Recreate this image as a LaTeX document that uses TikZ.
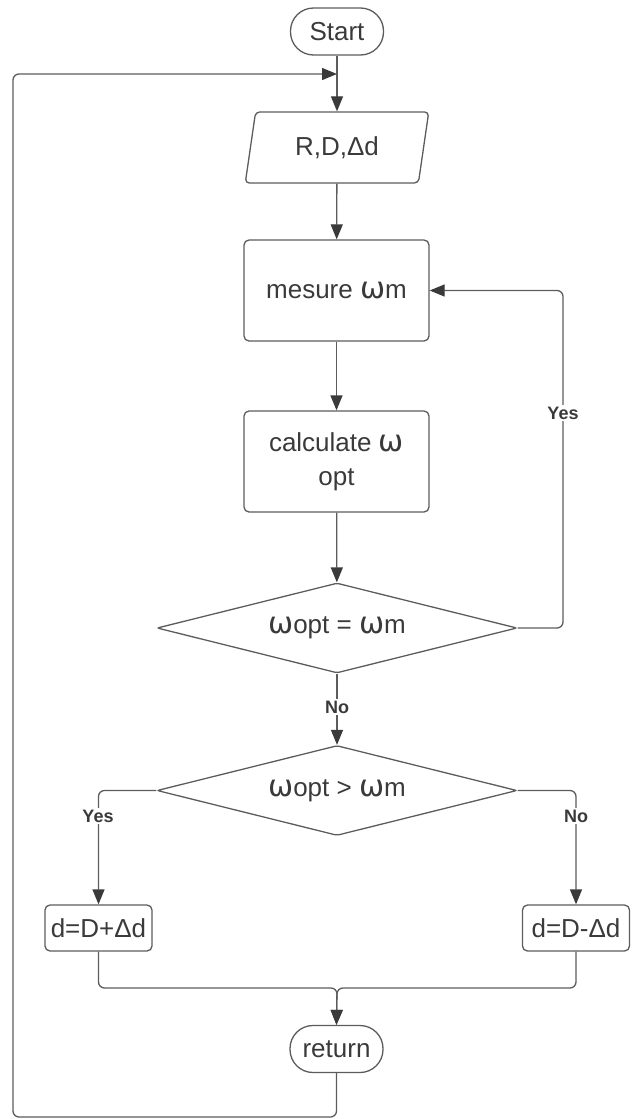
\documentclass[tikz,border=0pt]{standalone}
\usepackage{fontspec}
\setmainfont{Liberation Sans}
\newfontfamily\omfont{DejaVu Sans}
\usepackage{tikz}
\usetikzlibrary{shapes.geometric,arrows.meta}

\definecolor{ink}{HTML}{3A3A3A}
\definecolor{wire}{HTML}{5C5C5C}
\newcommand{\om}{{\omfont\fontsize{30}{30}\selectfont ω}}

\tikzset{
  box/.style={draw=wire,line width=1.3pt,rounded corners=5pt,text=ink,
    font=\fontsize{26}{34}\selectfont,align=center,inner sep=0pt},
  terminal/.style={box,rounded corners=23pt,minimum width=93pt,minimum height=47pt},
  inout/.style={box,trapezium,trapezium left angle=76.5,trapezium right angle=103.5,
    trapezium stretches=true,minimum width=185pt,minimum height=71pt,rounded corners=4pt},
  process/.style={box,minimum width=185pt,minimum height=101pt},
  decision/.style={box,diamond,aspect=4,minimum width=360pt,minimum height=90pt,rounded corners=2pt},
  small/.style={box,minimum width=107pt,minimum height=46pt},
  lbl/.style={fill=white,text=ink,font=\fontsize{18}{18}\selectfont\bfseries,inner sep=2pt},
}

\begin{document}
\begin{tikzpicture}[x=1pt,y=-1pt,>={Triangle[length=15pt,width=12pt,color=ink]},
    arr/.style={->,draw=wire,line width=1.3pt}]
    \useasboundingbox (0,0) rectangle (633,1119);
    % blocks
    \node[terminal] (start) at (337,31.5) {Start};
    \node[inout] (io) at (337,147.5) {R,D,Δd};
    \node[process] (mes) at (336.5,290.5) {mesure \om m};
    \node[process] (calc) at (336.5,461.5) {calculate \om\\opt};
    \node[decision] (eq) at (337,628) {\om opt = \om m};
    \node[decision] (gt) at (337,790.5) {\om opt > \om m};
    \node[small] (dplus) at (98.5,928) {d=D+Δd};
    \node[small] (dminus) at (576,928) {d=D-Δd};
    \node[terminal] (ret) at (336.5,1049) {return};
    % helper points
    \coordinate (join) at (337,988);
    \coordinate (lowleft) at (13,1117);
    \coordinate (topleft) at (13,74);
    \coordinate (entry) at (337,74);
    \coordinate (yesturn) at (563,460);
    % connectors
    \draw[arr] (start) -- (io);
    \draw[arr] (io) -- (mes);
    \draw[arr] (mes) -- (calc);
    \draw[arr] (calc) -- (eq);
    \draw[arr] (eq) -- (gt);
    \draw[arr,rounded corners=6pt] (eq.east) -| (yesturn) |- (mes.east);
    \draw[arr,rounded corners=6pt] (gt.west) -| (dplus.north);
    \draw[arr,rounded corners=6pt] (gt.east) -| (dminus.north);
    \draw[arr,rounded corners=6pt] (dplus.south) |- (join) -- (ret.north);
    \draw[arr,rounded corners=6pt] (dminus.south) |- (join) -- (ret.north);
    \draw[arr,rounded corners=6pt] (ret.south) |- (lowleft) -- (topleft) -- (entry);
    % labels
    \node[lbl] (yesA) at (563,413) {Yes};
    \node[lbl] (noA) at (337,707) {No};
    \node[lbl] (yesB) at (98,816) {Yes};
    \node[lbl] (noB) at (576,816) {No};
\end{tikzpicture}
\end{document}
